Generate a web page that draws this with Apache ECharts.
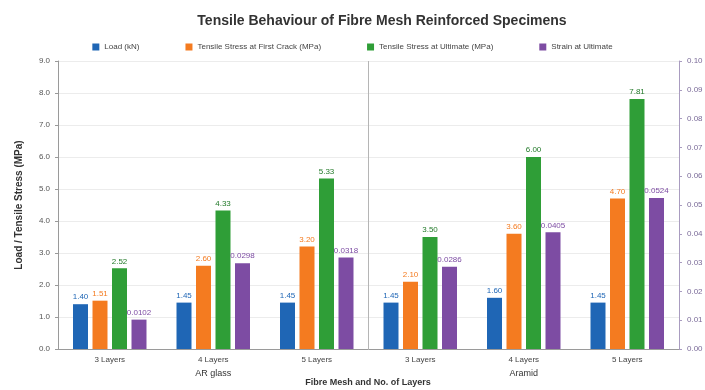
<!DOCTYPE html>
<html>
<head>
<meta charset="utf-8">
<script src="https://cdn.jsdelivr.net/npm/echarts@6/dist/echarts.min.js"></script>
<style>
  html, body { margin: 0; padding: 0; background: #ffffff; }
  #chart { width: 705px; height: 390px; }
</style>
</head>
<body>
<div id="chart"></div>
<script>
// Specimen categories (layers) and the fibre mesh groups they belong to
const layers = ['3 Layers', '4 Layers', '5 Layers', '3 Layers', '4 Layers', '5 Layers'];
const meshGroups = ['AR glass', 'Aramid'];

// Measured results per specimen
const loadKN = [1.40, 1.45, 1.45, 1.45, 1.60, 1.45];
const firstCrackMPa = [1.51, 2.60, 3.20, 2.10, 3.60, 4.70];
const ultimateMPa = [2.52, 4.33, 5.33, 3.50, 6.00, 7.81];
const strainUltimate = [0.0102, 0.0298, 0.0318, 0.0286, 0.0405, 0.0524];

const seriesNames = [
  'Load (kN)',
  'Tensile Stress at First Crack (MPa)',
  'Tensile Stress at Ultimate (MPa)',
  'Strain at Ultimate'
];
const colors = ['#1f66b5', '#f47b20', '#2f9e37', '#7d4ca3'];
const labelColors = ['#1f66b5', '#f47b20', '#237a2a', '#7d4ca3'];

const FONT = 'Liberation Sans, Arial, sans-serif';

function barSeries(idx, data, yIndex, digits) {
  return {
    name: seriesNames[idx],
    type: 'bar',
    xAxisIndex: 0,
    yAxisIndex: yIndex,
    data: data,
    barWidth: 15,
    barGap: '30%',
    itemStyle: { color: colors[idx] },
    label: {
      show: true,
      position: 'top',
      distance: 3,
      fontFamily: FONT,
      fontSize: 8,
      color: labelColors[idx],
      formatter: p => p.value.toFixed(digits)
    }
  };
}

const chart = echarts.init(document.getElementById('chart'), null, { renderer: 'canvas' });

chart.setOption({
  backgroundColor: '#ffffff',
  animation: false,
  textStyle: { fontFamily: FONT },
  title: [
    {
      text: 'Tensile Behaviour of Fibre Mesh Reinforced Specimens',
      left: 377,
      textAlign: 'center',
      top: 9,
      textStyle: { fontFamily: FONT, fontSize: 14, fontWeight: 'bold', color: '#333333' }
    },
    {
      // x-axis title, set under the mesh group labels
      text: 'Fibre Mesh and No. of Layers',
      left: 368,
      textAlign: 'center',
      top: 378,
      padding: 0,
      textStyle: { fontFamily: FONT, fontSize: 9, fontWeight: 'bold', color: '#333333' }
    }
  ],
  legend: {
    top: 38,
    left: 'center',
    itemWidth: 7,
    itemHeight: 7,
    itemGap: 46,
    icon: 'rect',
    textStyle: { fontFamily: FONT, fontSize: 8, color: '#444444' },
    data: seriesNames
  },
  grid: { left: 58, right: 26, top: 61, bottom: 41, containLabel: false, outerBoundsMode: 'none' },
  xAxis: [
    {
      type: 'category',
      data: layers,
      axisLine: { lineStyle: { color: '#9a9a9a' } },
      axisTick: { show: false },
      axisLabel: { fontFamily: FONT, fontSize: 8, color: '#444444', margin: 7 }
    },
    {
      type: 'category',
      data: meshGroups,
      position: 'bottom',
      offset: 17,
      axisLine: { show: false },
      axisTick: { show: false },
      axisLabel: { fontFamily: FONT, fontSize: 9, color: '#333333', margin: 3 },
      splitLine: { show: true, lineStyle: { color: '#b5b5b5', width: 1 } }
    }
  ],
  yAxis: [
    {
      type: 'value',
      min: 0,
      max: 9,
      interval: 1,
      name: 'Load / Tensile Stress (MPa)',
      nameLocation: 'middle',
      nameGap: 34,
      nameTextStyle: { fontFamily: FONT, fontSize: 10, fontWeight: 'bold', color: '#333333' },
      axisLine: { show: true, lineStyle: { color: '#9a9a9a' } },
      axisTick: { show: true, length: 3, lineStyle: { color: '#9a9a9a' } },
      axisLabel: { fontFamily: FONT, fontSize: 8, color: '#555555', formatter: v => v.toFixed(1) },
      splitLine: { lineStyle: { color: '#ececec' } }
    },
    {
      type: 'value',
      min: 0,
      max: 0.1,
      interval: 0.01,
      position: 'right',
      axisLine: { show: true, lineStyle: { color: '#a99cc0' } },
      axisTick: { show: true, length: 3, lineStyle: { color: '#a99cc0' } },
      axisLabel: { fontFamily: FONT, fontSize: 8, color: '#7a6a98', formatter: v => v.toFixed(2) },
      splitLine: { show: false }
    }
  ],
  series: [
    barSeries(0, loadKN, 0, 2),
    barSeries(1, firstCrackMPa, 0, 2),
    barSeries(2, ultimateMPa, 0, 2),
    barSeries(3, strainUltimate, 1, 4)
  ]
});
</script>
</body>
</html>
